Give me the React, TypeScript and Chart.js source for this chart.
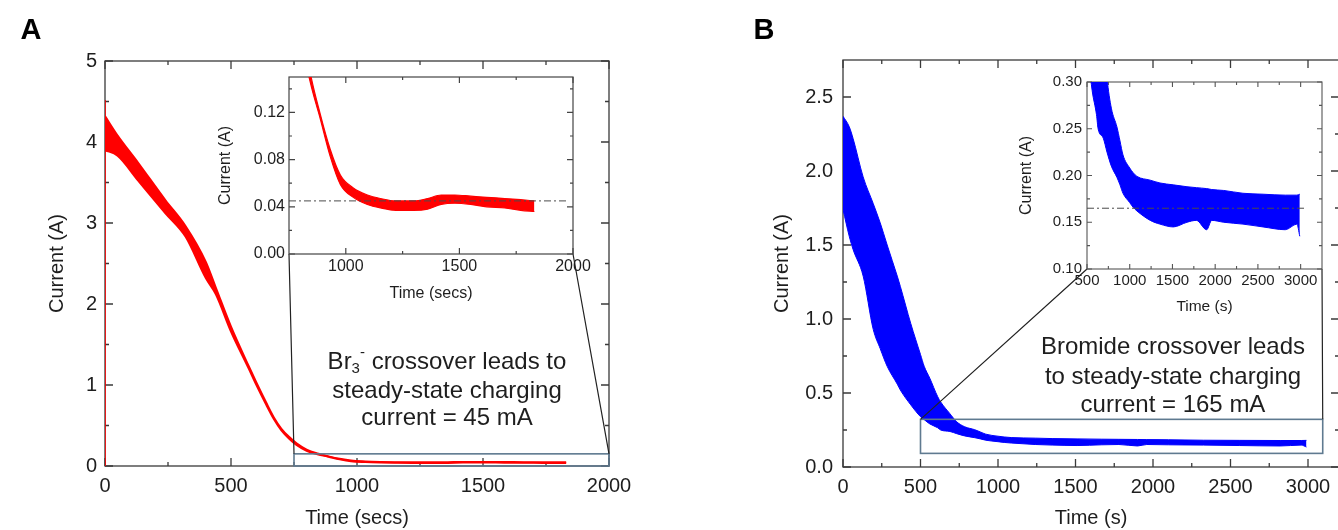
import React, { useEffect, useRef } from 'react';
import { Chart, registerables } from 'chart.js';

Chart.register(...registerables);

const FONT = "'Liberation Sans', Arial, Helvetica, sans-serif";
const INK = '#1e1e1e';

// ---------------- Panel A data ----------------
const timeA = [0, 50, 130, 240, 320, 400, 440, 500, 570, 600, 640, 670, 700, 730, 760, 800, 843, 887, 931, 976, 1033, 1095, 1153, 1220, 1300, 1360, 1420, 1480, 1550, 1620, 1700, 1770, 1830];
const upperA = [4.32, 4.08, 3.75, 3.28, 2.96, 2.52, 2.2, 1.72, 1.235, 1.035, 0.78, 0.6, 0.46, 0.36, 0.28, 0.203, 0.154, 0.119, 0.089, 0.067, 0.056, 0.05, 0.047, 0.045, 0.045, 0.047, 0.05, 0.05, 0.049, 0.048, 0.047, 0.046, 0.045];
const lowerA = [3.9, 3.83, 3.53, 3.12, 2.83, 2.32, 2.12, 1.66, 1.205, 1.005, 0.755, 0.58, 0.44, 0.34, 0.26, 0.188, 0.146, 0.115, 0.083, 0.059, 0.048, 0.042, 0.039, 0.037, 0.037, 0.038, 0.042, 0.043, 0.042, 0.04, 0.039, 0.037, 0.036];
const startTimeA = [0, 0];
const startCurrentA = [0, 4.52];
const steadyTimeA = [750, 1970];
const steadyCurrentA = [0.045, 0.045];
const zoomBoxA = [750, 2000, 0, 0.15];

const mainTicksAX = [0, 500, 1000, 1500, 2000];
const mainLabelsAX = ['0', '500', '1000', '1500', '2000'];
const mainTicksAY = [0, 1, 2, 3, 4, 5];
const mainLabelsAY = ['0', '1', '2', '3', '4', '5'];
const insetTicksAX = [1000, 1500, 2000];
const insetLabelsAX = ['1000', '1500', '2000'];
const insetTicksAY = [0, 0.04, 0.08, 0.12];
const insetLabelsAY = ['0.00', '0.04', '0.08', '0.12'];

// ---------------- Panel B data ----------------
const timeB = [0, 40, 65, 130, 195, 240, 285, 350, 370, 437, 500, 524, 560, 611, 630, 690, 734, 785, 850, 886, 921, 1000, 1040, 1085, 1240, 1354, 1510, 1670, 1780, 1900, 1960, 2100, 2325, 2560, 2820, 2956, 2990];
const upperB = [2.37, 2.3, 2.22, 1.96, 1.78, 1.65, 1.5, 1.29, 1.22, 0.97, 0.76, 0.68, 0.6, 0.475, 0.44, 0.36, 0.305, 0.272, 0.252, 0.237, 0.222, 0.208, 0.203, 0.199, 0.195, 0.192, 0.19, 0.188, 0.187, 0.186, 0.185, 0.184, 0.181, 0.18, 0.179, 0.179, 0.18];
const lowerB = [1.74, 1.56, 1.47, 1.29, 0.93, 0.8, 0.68, 0.56, 0.52, 0.42, 0.34, 0.32, 0.291, 0.265, 0.25, 0.24, 0.225, 0.21, 0.198, 0.19, 0.181, 0.171, 0.166, 0.162, 0.152, 0.148, 0.145, 0.15, 0.152, 0.142, 0.152, 0.15, 0.148, 0.145, 0.142, 0.148, 0.135];
const steadyTimeB = [500, 3070];
const steadyCurrentB = [0.165, 0.165];
const zoomBoxB = [500, 3095, 0.092, 0.322];

const mainTicksBX = [0, 500, 1000, 1500, 2000, 2500, 3000];
const mainLabelsBX = ['0', '500', '1000', '1500', '2000', '2500', '3000'];
const mainTicksBY = [0, 0.5, 1, 1.5, 2, 2.5];
const mainLabelsBY = ['0.0', '0.5', '1.0', '1.5', '2.0', '2.5'];
const insetTicksBX = [500, 1000, 1500, 2000, 2500, 3000];
const insetLabelsBX = ['500', '1000', '1500', '2000', '2500', '3000'];
const insetTicksBY = [0.1, 0.15, 0.2, 0.25, 0.3];
const insetLabelsBY = ['0.10', '0.15', '0.20', '0.25', '0.30'];

type Seg = { text: string; shift?: 'sub' | 'sup' };
const noteA: Seg[][] = [
  [{ text: 'Br' }, { text: '3', shift: 'sub' }, { text: '-', shift: 'sup' }, { text: ' crossover leads to' }],
  [{ text: 'steady-state charging' }],
  [{ text: 'current = 45 mA' }],
];
const noteB: Seg[][] = [
  [{ text: 'Bromide crossover leads' }],
  [{ text: 'to steady-state charging' }],
  [{ text: 'current = 165 mA' }],
];

// ---------------- layout ----------------
type Panel = {
  canvas: { x: number; y: number; w: number; h: number };
  plot: { l: number; t: number; r: number; b: number };
  xRange: [number, number];
  yRange: [number, number];
  xTicks: number[]; xLabels: string[];
  yTicks: number[]; yLabels: string[];
  xTitle: string; yTitle: string;
  xTickFont: number; yTickFont: number;
  xTitleFont: number; yTitleFont: number;
  xTitleY: number; yTitleX: number;
  xPad: number; yPad: number;
  majorLen: number; minorLen: number;
  frameColor: string; frameWidth: number;
};

const mainA: Panel = {
  canvas: { x: 0, y: 0, w: 660, h: 530 },
  plot: { l: 105, t: 61, r: 609, b: 466 },
  xRange: [0, 2000], yRange: [0, 5],
  xTicks: mainTicksAX, xLabels: mainLabelsAX, yTicks: mainTicksAY, yLabels: mainLabelsAY,
  xTitle: 'Time (secs)', yTitle: 'Current (A)',
  xTickFont: 20, yTickFont: 20, xTitleFont: 20, yTitleFont: 20,
  xTitleY: 518, yTitleX: 57, xPad: 8, yPad: 8,
  majorLen: 8, minorLen: 4, frameColor: '#3a3a3a', frameWidth: 1.3,
};
const insetA: Panel = {
  canvas: { x: 200, y: 70, w: 400, h: 240 },
  plot: { l: 289, t: 77, r: 573, b: 254 },
  xRange: [750, 2000], yRange: [0, 0.15],
  xTicks: insetTicksAX, xLabels: insetLabelsAX, yTicks: insetTicksAY, yLabels: insetLabelsAY,
  xTitle: 'Time (secs)', yTitle: 'Current (A)',
  xTickFont: 16, yTickFont: 16, xTitleFont: 16, yTitleFont: 16,
  xTitleY: 294, yTitleX: 226, xPad: 3, yPad: 4,
  majorLen: 6, minorLen: 3, frameColor: '#444', frameWidth: 1.2,
};
const mainB: Panel = {
  canvas: { x: 680, y: 0, w: 660, h: 530 },
  plot: { l: 843, t: 60, r: 1339, b: 467 },
  xRange: [0, 3200], yRange: [0, 2.75],
  xTicks: mainTicksBX, xLabels: mainLabelsBX, yTicks: mainTicksBY, yLabels: mainLabelsBY,
  xTitle: 'Time (s)', yTitle: 'Current (A)',
  xTickFont: 20, yTickFont: 20, xTitleFont: 20, yTitleFont: 20,
  xTitleY: 518, yTitleX: 782, xPad: 8, yPad: 10,
  majorLen: 8, minorLen: 4, frameColor: '#3a3a3a', frameWidth: 1.3,
};
const insetB: Panel = {
  canvas: { x: 1000, y: 75, w: 338, h: 245 },
  plot: { l: 1087, t: 82, r: 1322, b: 269 },
  xRange: [500, 3250], yRange: [0.1, 0.3],
  xTicks: insetTicksBX, xLabels: insetLabelsBX, yTicks: insetTicksBY, yLabels: insetLabelsBY,
  xTitle: 'Time (s)', yTitle: 'Current (A)',
  xTickFont: 15, yTickFont: 15, xTitleFont: 15.5, yTitleFont: 16,
  xTitleY: 307, yTitleX: 1027, xPad: 3, yPad: 5,
  majorLen: 5, minorLen: 3, frameColor: '#555', frameWidth: 1.1,
};

const pts = (xs: number[], ys: number[]) => xs.map((x, i) => ({ x, y: ys[i] }));

function minorTicks(major: number[], range: [number, number]) {
  const step = major[1] - major[0];
  let v = major[0] - step / 2;
  while (v - step > range[0]) v -= step;
  const out: number[] = [];
  for (; v < range[1] - 1e-9; v += step) {
    if (v > range[0] + 1e-9) out.push(v);
  }
  return out;
}

function framePlugin(p: Panel) {
  return {
    id: 'frame',
    beforeDatasetsDraw(chart: any) {
      const { ctx, chartArea: a } = chart;
      const xs = chart.scales.x;
      const ys = chart.scales.y;
      ctx.save();
      ctx.strokeStyle = p.frameColor;
      ctx.lineWidth = p.frameWidth;
      ctx.strokeRect(a.left, a.top, a.right - a.left, a.bottom - a.top);
      ctx.beginPath();
      const vx = (v: number, len: number) => {
        const px = xs.getPixelForValue(v);
        ctx.moveTo(px, a.bottom); ctx.lineTo(px, a.bottom - len);
        ctx.moveTo(px, a.top); ctx.lineTo(px, a.top + len);
      };
      const vy = (v: number, len: number) => {
        const py = ys.getPixelForValue(v);
        ctx.moveTo(a.left, py); ctx.lineTo(a.left + len, py);
        ctx.moveTo(a.right, py); ctx.lineTo(a.right - len, py);
      };
      p.xTicks.forEach((v) => vx(v, p.majorLen));
      minorTicks(p.xTicks, p.xRange).forEach((v) => vx(v, p.minorLen));
      p.yTicks.forEach((v) => vy(v, p.majorLen));
      minorTicks(p.yTicks, p.yRange).forEach((v) => vy(v, p.minorLen));
      ctx.stroke();
      ctx.restore();
    },
  };
}

function drawRich(ctx: CanvasRenderingContext2D, segs: Seg[], cx: number, cy: number, size: number) {
  const small = Math.round(size * 0.62);
  const fontOf = (s: Seg) => `${s.shift ? small : size}px ${FONT}`;
  let total = 0;
  const widths = segs.map((s) => {
    ctx.font = fontOf(s);
    const w = ctx.measureText(s.text).width;
    total += w;
    return w;
  });
  let x = cx - total / 2;
  ctx.textAlign = 'left';
  ctx.textBaseline = 'middle';
  segs.forEach((s, i) => {
    ctx.font = fontOf(s);
    const dy = s.shift === 'sub' ? size * 0.3 : s.shift === 'sup' ? -size * 0.38 : 0;
    ctx.fillText(s.text, x, cy + dy);
    x += widths[i];
  });
}

type Overlay = {
  box: number[];
  inset: Panel;
  note: Seg[][];
  noteX: number;
  noteY: number[];
  noteSize: number;
  letter: string;
  letterX: number;
  letterY: number;
};

function overlayPlugin(p: Panel, o: Overlay) {
  return {
    id: 'overlay',
    afterDatasetsDraw(chart: any) {
      const { ctx } = chart;
      const xs = chart.scales.x;
      const ys = chart.scales.y;
      const ox = p.canvas.x;
      const oy = p.canvas.y;
      const L = xs.getPixelForValue(o.box[0]);
      const R = xs.getPixelForValue(o.box[1]);
      const B = ys.getPixelForValue(o.box[2]);
      const T = ys.getPixelForValue(o.box[3]);
      ctx.save();
      ctx.strokeStyle = '#5f7a90';
      ctx.lineWidth = 1.6;
      ctx.strokeRect(L, T, R - L, B - T);
      ctx.strokeStyle = '#222';
      ctx.lineWidth = 1.2;
      ctx.beginPath();
      ctx.moveTo(L, T);
      ctx.lineTo(o.inset.plot.l - ox, o.inset.plot.b - oy);
      ctx.moveTo(R, T);
      ctx.lineTo(o.inset.plot.r - ox, o.inset.plot.b - oy);
      ctx.stroke();
      ctx.fillStyle = INK;
      o.note.forEach((line, i) => drawRich(ctx, line, o.noteX - ox, o.noteY[i] - oy, o.noteSize));
      ctx.font = `bold 29px ${FONT}`;
      ctx.textAlign = 'center';
      ctx.textBaseline = 'middle';
      ctx.fillStyle = '#000';
      ctx.fillText(o.letter, o.letterX - ox, o.letterY - oy);
      ctx.restore();
    },
  };
}

function buildConfig(p: Panel, datasets: any[], plugins: any[]) {
  const xlh = p.xTitleFont * 1.2;
  const ylh = p.yTitleFont * 1.2;
  const yScaleLeft = p.yTitleX - ylh / 2;
  const xScaleBottom = p.xTitleY + xlh / 2;
  const padding = {
    left: yScaleLeft - p.canvas.x,
    top: p.plot.t - p.canvas.y,
    right: p.canvas.x + p.canvas.w - p.plot.r,
    bottom: p.canvas.y + p.canvas.h - xScaleBottom,
  };
  const yWidth = p.plot.l - yScaleLeft;
  const xHeight = xScaleBottom - p.plot.b;
  const noPad = (s: any) => {
    s.paddingLeft = 0; s.paddingRight = 0; s.paddingTop = 0; s.paddingBottom = 0;
  };
  return {
    type: 'line',
    data: { datasets },
    options: {
      responsive: false,
      animation: false,
      devicePixelRatio: 1,
      events: [],
      layout: { padding },
      plugins: { legend: { display: false }, tooltip: { enabled: false } },
      elements: { point: { radius: 0 } },
      scales: {
        x: {
          type: 'linear',
          min: p.xRange[0],
          max: p.xRange[1],
          grid: { display: false, drawTicks: false, tickLength: 0 },
          border: { display: false },
          afterBuildTicks: (s: any) => { s.ticks = p.xTicks.map((v) => ({ value: v })); },
          afterFit: (s: any) => { s.height = xHeight; noPad(s); },
          ticks: {
            autoSkip: false, maxRotation: 0, minRotation: 0, padding: p.xPad, color: INK,
            font: { family: FONT, size: p.xTickFont },
            callback: (_v: any, i: number) => p.xLabels[i],
          },
          title: { display: true, text: p.xTitle, color: INK, padding: 0, font: { family: FONT, size: p.xTitleFont } },
        },
        y: {
          type: 'linear',
          min: p.yRange[0],
          max: p.yRange[1],
          grid: { display: false, drawTicks: false, tickLength: 0 },
          border: { display: false },
          afterBuildTicks: (s: any) => { s.ticks = p.yTicks.map((v) => ({ value: v })); },
          afterFit: (s: any) => { s.width = yWidth; noPad(s); },
          ticks: {
            autoSkip: false, padding: p.yPad, color: INK,
            font: { family: FONT, size: p.yTickFont },
            callback: (_v: any, i: number) => p.yLabels[i],
          },
          title: { display: true, text: p.yTitle, color: INK, padding: 0, font: { family: FONT, size: p.yTitleFont } },
        },
      },
    },
    plugins,
  };
}

function band(time: number[], upper: number[], lower: number[], color: string, width: number) {
  const common = { borderColor: color, backgroundColor: color, borderWidth: width, pointRadius: 0, cubicInterpolationMode: 'monotone' };
  return [
    { ...common, data: pts(time, upper), fill: '+1' },
    { ...common, data: pts(time, lower), fill: false },
  ];
}

function dashed(time: number[], values: number[]) {
  return {
    data: pts(time, values), borderColor: '#4a4a4a', borderWidth: 1, borderDash: [7, 3, 2, 3],
    fill: false, pointRadius: 0, tension: 0,
  };
}

const RED = '#ff0000';
const BLUE = '#0000ff';

const configs = [
  {
    panel: mainA,
    make: () => buildConfig(mainA, [
      ...band(timeA, upperA, lowerA, RED, 2),
      { data: pts(startTimeA, startCurrentA), borderColor: RED, borderWidth: 1.6, fill: false, pointRadius: 0 },
    ], [framePlugin(mainA), overlayPlugin(mainA, {
      box: zoomBoxA, inset: insetA, note: noteA, noteX: 447, noteY: [362, 391, 418], noteSize: 24,
      letter: 'A', letterX: 31, letterY: 31,
    })]),
  },
  {
    panel: insetA,
    make: () => buildConfig(insetA, [
      dashed(steadyTimeA, steadyCurrentA),
      ...band(timeA, upperA, lowerA, RED, 1.2),
    ], [framePlugin(insetA)]),
  },
  {
    panel: mainB,
    make: () => buildConfig(mainB, [
      ...band(timeB, upperB, lowerB, BLUE, 1),
    ], [framePlugin(mainB), overlayPlugin(mainB, {
      box: zoomBoxB, inset: insetB, note: noteB, noteX: 1173, noteY: [347, 377, 405], noteSize: 24,
      letter: 'B', letterX: 764, letterY: 31,
    })]),
  },
  {
    panel: insetB,
    make: () => buildConfig(insetB, [
      dashed(steadyTimeB, steadyCurrentB),
      ...band(timeB, upperB, lowerB, BLUE, 1),
    ], [framePlugin(insetB)]),
  },
];

function ChartCanvas({ panel, make }: { panel: Panel; make: () => any }) {
  const ref = useRef<HTMLCanvasElement | null>(null);
  useEffect(() => {
    if (!ref.current) return;
    const chart = new Chart(ref.current, make());
    return () => chart.destroy();
  }, []);
  return (
    <canvas
      ref={ref}
      width={panel.canvas.w}
      height={panel.canvas.h}
      style={{ position: 'absolute', left: panel.canvas.x, top: panel.canvas.y }}
    />
  );
}

export default function App() {
  return (
    <div style={{ position: 'absolute', left: 0, top: 0, width: 1338, height: 530, overflow: 'hidden', background: '#fff' }}>
      {configs.map((c, i) => (
        <ChartCanvas key={i} panel={c.panel} make={c.make} />
      ))}
    </div>
  );
}
